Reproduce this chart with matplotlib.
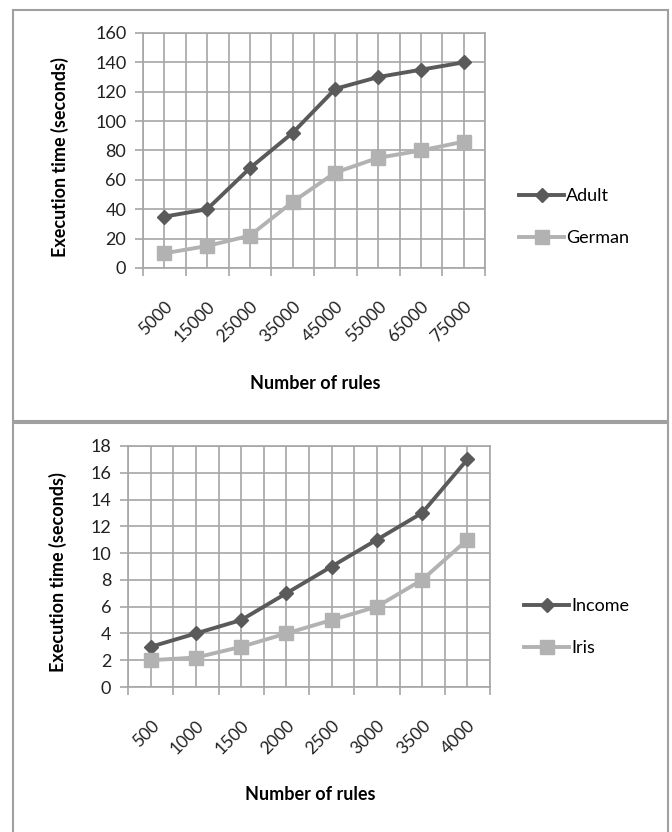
import numpy as np
import matplotlib
matplotlib.use("Agg")
import matplotlib.pyplot as plt
from matplotlib.patches import Rectangle
from matplotlib.ticker import FixedLocator
from matplotlib.transforms import ScaledTranslation

plt.rcParams['font.family'] = ['Lato', 'DejaVu Sans']

# data
rules_top = ['5000', '15000', '25000', '35000', '45000', '55000', '65000', '75000']
adult = [35, 40, 68, 92, 122, 130, 135, 140]
german = [10, 15, 22, 45, 65, 75, 80, 86]

rules_bottom = ['500', '1000', '1500', '2000', '2500', '3000', '3500', '4000']
income = [3, 4, 5, 7, 9, 11, 13, 17]
iris = [2, 2.2, 3, 4, 5, 6, 8, 11]

dark = '#5a5a5a'
light = '#b2b2b2'
grid_col = '#a6a6a6'
W, H = 672, 832

fig = plt.figure(figsize=(6.72, 8.32), dpi=100)

# panel frames
fig.patches.append(Rectangle((13 / W, 1 - 421 / H), 655 / W, 411 / H,
                             transform=fig.transFigure, fill=False,
                             edgecolor='#a0a0a0', linewidth=1.5))
fig.patches.append(Rectangle((13 / W, -0.01), 655 / W, 1 - 423 / H + 0.01,
                             transform=fig.transFigure, fill=False,
                             edgecolor='#a0a0a0', linewidth=1.5))


def draw_panel(box, labels, s1, s2, names, ymax, ystep, ylab_xy, xlab_xy, leg_xy):
    # box = (left, top, right, bottom) in pixels
    l, t, r, b = box
    ax = fig.add_axes([l / W, 1 - b / H, (r - l) / W, (b - t) / H])
    x = np.arange(len(labels))
    ax.plot(x, s1, color=dark, lw=2.8, marker='D', ms=7.5, label=names[0])
    ax.plot(x, s2, color=light, lw=2.8, marker='s', ms=10, label=names[1])

    ax.set_xlim(-0.5, len(labels) - 0.5)
    ax.set_ylim(0, ymax)
    ax.set_yticks(np.arange(0, ymax + 1, ystep))
    ax.set_xticks(x)
    ax.set_xticklabels(labels, rotation=45, ha='right', rotation_mode='anchor')
    shift = ScaledTranslation(5 / 100, 0, fig.dpi_scale_trans)
    for lab in ax.get_xticklabels():
        lab.set_transform(lab.get_transform() + shift)
    ax.xaxis.set_minor_locator(FixedLocator(np.arange(-0.5, len(labels), 1.0)))

    ax.tick_params(axis='x', which='major', length=0, pad=22, labelsize=12.5, labelcolor='#222222')
    ax.tick_params(axis='x', which='minor', length=6, color=grid_col, width=1.2, direction='out')
    ax.tick_params(axis='y', length=6, color=grid_col, width=1.2, labelsize=13,
                   labelcolor='#222222', pad=6)

    ax.grid(True, which='both', axis='x', color=grid_col, lw=1.2)
    ax.grid(True, which='major', axis='y', color=grid_col, lw=1.2)
    ax.set_axisbelow(True)
    for sp in ax.spines.values():
        sp.set_color(grid_col)
        sp.set_linewidth(1.2)

    ax.set_xlabel('Number of rules', fontsize=13, fontweight='bold', va='center')
    ax.xaxis.set_label_coords((xlab_xy[0] - l) / (r - l), -(xlab_xy[1] - b) / (b - t))
    ax.set_ylabel('Execution time (seconds)', fontsize=13, fontweight='bold', va='center')
    ax.yaxis.set_label_coords(-(l - ylab_xy[0]) / (r - l), (b - ylab_xy[1]) / (b - t))

    ax.legend(loc='center left', bbox_to_anchor=(leg_xy[0] / W, 1 - leg_xy[1] / H),
              bbox_transform=fig.transFigure, frameon=False, borderpad=0,
              borderaxespad=0, fontsize=13, handlelength=2.5, handletextpad=0.1,
              labelspacing=1.45)
    return ax


draw_panel((143, 33, 485, 268), rules_top, adult, german, ['Adult', 'German'],
           160, 20, (60, 157), (315, 383), (519, 217))
draw_panel((128, 446, 490, 687), rules_bottom, income, iris, ['Income', 'Iris'],
           18, 2, (58, 572), (310, 795), (524, 627))

fig.savefig('out.png', dpi=100)
